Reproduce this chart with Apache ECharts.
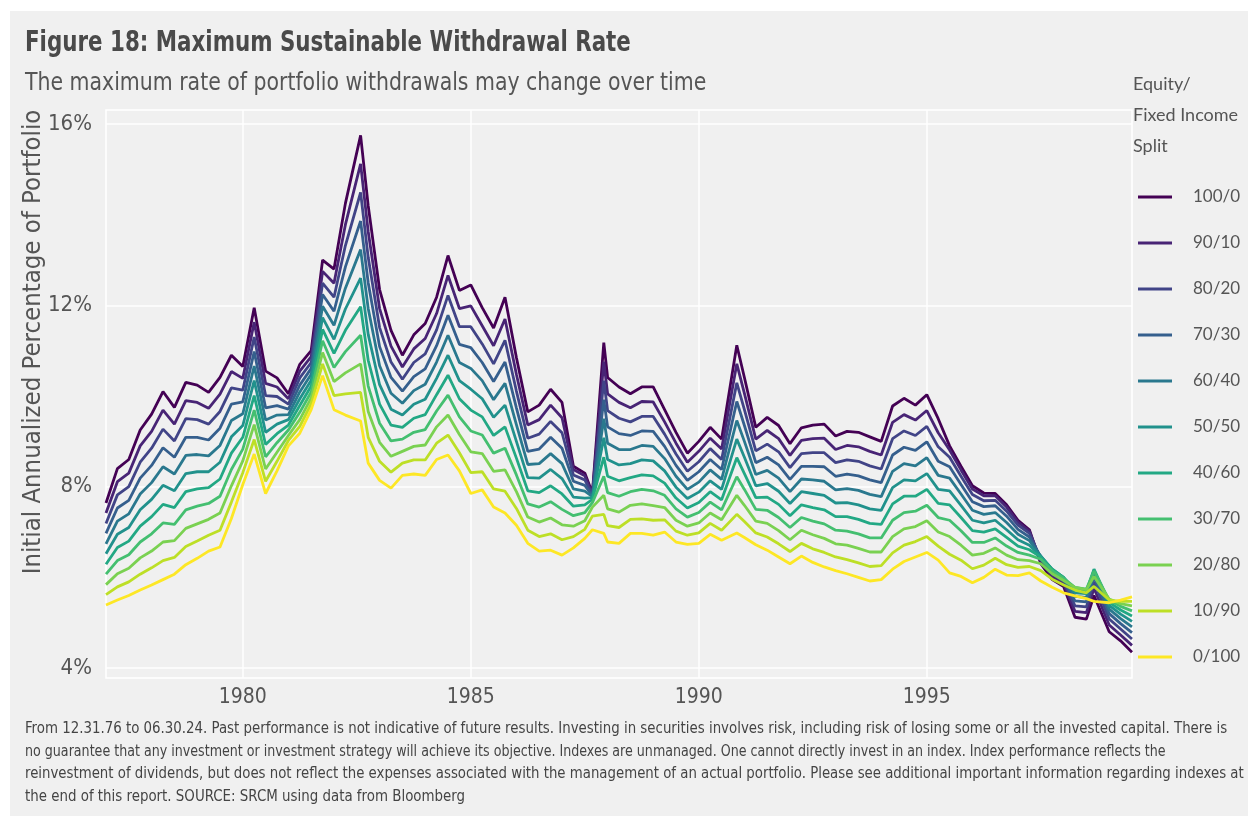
<!DOCTYPE html>
<html>
<head>
<meta charset="utf-8">
<title>Maximum Sustainable Withdrawal Rate</title>
<script src="https://cdn.jsdelivr.net/npm/echarts@6/dist/echarts.min.js"></script>
<style>
  html, body { margin: 0; padding: 0; background: #ffffff; overflow: hidden; }
  #main { position: absolute; left: 10px; top: 11px; width: 1238px; height: 805px; }
</style>
</head>
<body>
<div id="main"></div>
<script>
// start month of each 25-year withdrawal period (roughly quarterly, shifted onto peaks)
var dates = [
  '1977-01','1977-04','1977-07','1977-10','1978-01','1978-04','1978-07','1978-10',
  '1979-01','1979-04','1979-07','1979-10','1980-01','1980-04','1980-07','1980-10',
  '1981-01','1981-04','1981-07','1981-10','1982-01','1982-04','1982-08','1982-10',
  '1983-01','1983-04','1983-07','1983-10','1984-01','1984-04','1984-07','1984-10',
  '1985-01','1985-04','1985-07','1985-10','1986-01','1986-04','1986-07','1986-10',
  '1987-01','1987-04','1987-07','1987-09','1987-12','1988-01','1988-04','1988-07',
  '1988-10','1989-01','1989-04','1989-07','1989-10','1990-01','1990-04','1990-07',
  '1990-11','1991-01','1991-04','1991-07','1991-10','1992-01','1992-04','1992-07',
  '1992-10','1993-01','1993-04','1993-07','1993-10','1994-01','1994-04','1994-07',
  '1994-10','1995-01','1995-04','1995-07','1995-10','1996-01','1996-04','1996-07',
  '1996-10','1997-01','1997-04','1997-07','1997-10','1998-01','1998-04','1998-07',
  '1998-09','1999-01','1999-04','1999-07'
];

// max sustainable withdrawal rate (%), one array per equity/fixed income split
var eq100 = [7.64,8.40,8.60,9.25,9.60,10.10,9.75,10.30,10.24,10.08,
  10.41,10.90,10.65,11.95,10.55,10.40,10.05,10.70,11.00,13.00,
  12.80,14.25,15.75,14.20,12.35,11.45,10.90,11.35,11.60,12.18,
  13.10,12.33,12.45,11.95,11.50,12.18,10.85,9.65,9.80,10.15,
  9.86,8.45,8.30,7.86,11.18,10.41,10.20,10.05,10.20,10.20,
  9.70,9.20,8.74,9.00,9.31,9.05,11.12,10.41,9.31,9.53,
  9.35,8.95,9.30,9.36,9.38,9.12,9.22,9.20,9.10,9.00,
  9.78,9.95,9.80,10.03,9.50,8.90,8.45,8.02,7.86,7.85,
  7.60,7.26,7.05,6.30,5.95,5.80,5.12,5.08,5.60,4.80,
  4.60,4.35];
var eq90 = [7.42,8.11,8.30,8.90,9.22,9.69,9.38,9.90,9.86,9.73,
  10.04,10.54,10.39,11.63,10.28,10.20,9.94,10.55,10.87,12.75,
  12.49,13.78,15.12,13.63,11.93,11.10,10.64,11.04,11.27,11.82,
  12.66,11.93,11.99,11.55,11.11,11.70,10.48,9.36,9.48,9.80,
  9.52,8.38,8.24,7.84,10.76,10.05,9.86,9.74,9.88,9.87,
  9.43,8.96,8.54,8.78,9.07,8.83,10.71,10.06,9.05,9.24,
  9.06,8.69,9.02,9.06,9.07,8.82,8.91,8.88,8.78,8.70,
  9.42,9.59,9.47,9.68,9.19,8.81,8.37,7.95,7.80,7.80,
  7.55,7.22,7.02,6.36,6.02,5.86,5.25,5.22,5.76,4.95,
  4.73,4.50];
var eq80 = [7.19,7.82,8.00,8.54,8.85,9.27,9.01,9.50,9.48,9.38,
  9.66,10.18,10.13,11.30,10.01,9.99,9.82,10.40,10.74,12.49,
  12.18,13.32,14.49,13.06,11.51,10.75,10.37,10.74,10.93,11.46,
  12.22,11.53,11.53,11.15,10.71,11.23,10.11,9.07,9.16,9.44,
  9.19,8.26,8.15,7.82,10.34,9.68,9.51,9.43,9.55,9.55,
  9.16,8.72,8.34,8.55,8.84,8.60,10.29,9.70,8.79,8.94,
  8.77,8.42,8.73,8.75,8.75,8.53,8.59,8.56,8.46,8.39,
  9.06,9.23,9.13,9.33,8.88,8.65,8.23,7.83,7.69,7.70,
  7.46,7.15,6.97,6.41,6.08,5.91,5.37,5.35,5.90,5.08,
  4.86,4.64];
var eq70 = [6.97,7.53,7.70,8.19,8.47,8.86,8.65,9.09,9.09,9.03,
  9.29,9.82,9.87,10.98,9.74,9.79,9.71,10.24,10.61,12.24,
  11.87,12.85,13.86,12.50,11.09,10.41,10.11,10.43,10.60,11.11,
  11.78,11.14,11.07,10.74,10.32,10.75,9.74,8.78,8.83,9.09,
  8.85,8.12,8.03,7.80,9.92,9.32,9.17,9.13,9.23,9.22,
  8.89,8.47,8.14,8.33,8.60,8.38,9.88,9.35,8.53,8.65,
  8.48,8.16,8.45,8.45,8.44,8.23,8.28,8.24,8.15,8.09,
  8.70,8.87,8.80,8.99,8.56,8.44,8.05,7.67,7.56,7.58,
  7.35,7.06,6.89,6.45,6.13,5.95,5.48,5.46,6.01,5.20,
  4.98,4.78];
var eq60 = [6.74,7.24,7.40,7.84,8.09,8.44,8.28,8.69,8.71,8.68,
  8.91,9.46,9.61,10.66,9.47,9.58,9.59,10.09,10.48,11.98,
  11.56,12.38,13.23,11.93,10.67,10.06,9.84,10.12,10.26,10.75,
  11.34,10.74,10.61,10.34,9.92,10.28,9.37,8.49,8.51,8.73,
  8.51,7.95,7.90,7.78,9.50,8.96,8.82,8.82,8.91,8.89,
  8.62,8.23,7.94,8.10,8.37,8.16,9.46,9.00,8.27,8.36,
  8.19,7.89,8.17,8.15,8.12,7.93,7.96,7.92,7.83,7.78,
  8.34,8.51,8.46,8.64,8.25,8.19,7.84,7.48,7.39,7.43,
  7.21,6.95,6.81,6.47,6.16,5.98,5.58,5.56,6.10,5.30,
  5.09,4.91];
var eq50 = [6.52,6.95,7.10,7.49,7.72,8.03,7.91,8.29,8.33,8.33,
  8.54,9.10,9.35,10.34,9.20,9.38,9.48,9.94,10.35,11.73,
  11.25,11.92,12.60,11.36,10.25,9.71,9.58,9.82,9.93,10.39,
  10.90,10.34,10.15,9.94,9.53,9.80,9.00,8.20,8.19,8.38,
  8.18,7.77,7.75,7.76,9.08,8.60,8.48,8.51,8.59,8.57,
  8.35,7.99,7.74,7.88,8.13,7.94,9.05,8.65,8.02,8.07,
  7.90,7.63,7.89,7.85,7.81,7.64,7.65,7.60,7.51,7.48,
  7.98,8.15,8.13,8.29,7.94,7.91,7.59,7.26,7.20,7.26,
  7.05,6.83,6.71,6.47,6.18,6.00,5.66,5.64,6.16,5.38,
  5.19,5.03];
var eq40 = [6.29,6.66,6.80,7.13,7.34,7.61,7.54,7.89,7.95,7.98,
  8.17,8.74,9.09,10.01,8.93,9.17,9.36,9.79,10.22,11.47,
  10.94,11.45,11.97,10.79,9.82,9.36,9.31,9.51,9.59,10.03,
  10.46,9.94,9.69,9.54,9.13,9.32,8.63,7.91,7.87,8.02,
  7.84,7.57,7.60,7.72,8.65,8.23,8.13,8.20,8.26,8.24,
  8.08,7.75,7.53,7.65,7.89,7.71,8.64,8.29,7.76,7.77,
  7.61,7.36,7.60,7.54,7.49,7.34,7.34,7.28,7.19,7.17,
  7.62,7.79,7.79,7.94,7.63,7.60,7.32,7.03,7.00,7.07,
  6.88,6.69,6.61,6.45,6.18,6.00,5.73,5.70,6.18,5.45,
  5.28,5.15];
var eq30 = [6.07,6.37,6.50,6.78,6.96,7.20,7.17,7.49,7.57,7.63,
  7.79,8.38,8.83,9.69,8.66,8.97,9.25,9.64,10.09,11.22,
  10.63,10.98,11.34,10.22,9.40,9.01,9.05,9.20,9.26,9.67,
  10.02,9.54,9.23,9.14,8.74,8.85,8.26,7.62,7.55,7.67,
  7.50,7.36,7.43,7.65,8.23,7.87,7.79,7.89,7.94,7.91,
  7.81,7.51,7.33,7.43,7.66,7.49,8.22,7.94,7.50,7.48,
  7.32,7.10,7.32,7.24,7.18,7.04,7.02,6.96,6.87,6.87,
  7.26,7.43,7.46,7.59,7.32,7.26,7.03,6.77,6.77,6.87,
  6.69,6.55,6.49,6.40,6.15,5.98,5.78,5.74,6.14,5.50,
  5.36,5.26];
var eq20 = [5.84,6.08,6.20,6.43,6.58,6.78,6.81,7.08,7.18,7.28,
  7.42,8.02,8.57,9.37,8.39,8.76,9.13,9.48,9.96,10.96,
  10.32,10.51,10.71,9.66,8.98,8.67,8.78,8.89,8.92,9.32,
  9.58,9.15,8.77,8.73,8.34,8.37,7.89,7.33,7.22,7.31,
  7.16,7.13,7.25,7.55,7.81,7.51,7.44,7.59,7.62,7.58,
  7.54,7.26,7.13,7.20,7.42,7.27,7.81,7.59,7.24,7.19,
  7.03,6.83,7.04,6.94,6.86,6.74,6.71,6.64,6.56,6.56,
  6.90,7.07,7.12,7.25,7.00,6.90,6.71,6.49,6.53,6.65,
  6.49,6.39,6.37,6.30,6.08,5.93,5.78,5.73,6.02,5.52,
  5.42,5.37];
var eq10 = [5.62,5.79,5.90,6.07,6.21,6.37,6.44,6.68,6.80,6.93,
  7.04,7.66,8.31,9.04,8.12,8.56,9.02,9.33,9.83,10.71,
  10.01,10.05,10.08,9.09,8.56,8.32,8.52,8.59,8.59,8.96,
  9.14,8.75,8.31,8.33,7.95,7.90,7.52,7.04,6.90,6.96,
  6.83,6.90,7.06,7.35,7.39,7.14,7.10,7.28,7.29,7.26,
  7.27,7.02,6.93,6.98,7.19,7.04,7.39,7.23,6.98,6.89,
  6.74,6.57,6.75,6.63,6.55,6.45,6.39,6.32,6.24,6.26,
  6.54,6.71,6.79,6.90,6.69,6.51,6.38,6.19,6.27,6.42,
  6.28,6.22,6.24,6.15,5.96,5.83,5.72,5.66,5.80,5.50,
  5.47,5.47];
var eq0 = [5.39,5.50,5.60,5.72,5.83,5.95,6.07,6.28,6.42,6.58,
  6.67,7.30,8.05,8.72,7.85,8.35,8.90,9.18,9.70,10.45,
  9.70,9.58,9.45,8.52,8.14,7.97,8.25,8.28,8.25,8.60,
  8.70,8.35,7.85,7.93,7.55,7.42,7.15,6.75,6.58,6.60,
  6.49,6.65,6.86,7.05,6.97,6.78,6.75,6.97,6.97,6.93,
  7.00,6.78,6.73,6.75,6.95,6.82,6.98,6.88,6.72,6.60,
  6.45,6.30,6.47,6.33,6.23,6.15,6.08,6.00,5.92,5.95,
  6.18,6.35,6.45,6.55,6.38,6.10,6.02,5.88,6.00,6.18,
  6.05,6.04,6.10,5.92,5.78,5.66,5.59,5.53,5.47,5.44,
  5.50,5.57];

var splits = ['100/0', '90/10', '80/20', '70/30', '60/40', '50/50',
              '40/60', '30/70', '20/80', '10/90', '0/100'];
var rates = [eq100, eq90, eq80, eq70, eq60, eq50, eq40, eq30, eq20, eq10, eq0];
var yearTicks = [1980, 1985, 1990, 1995];
var pctTicks = [4, 8, 12, 16];

// viridis, dark purple = all equity
var colors = ['#440154', '#482475', '#414487', '#355f8d', '#2a788e', '#21918c',
              '#22a884', '#44bf70', '#7ad151', '#bddf26', '#fde725'];

var narrow = "'Liberation Sans Narrow', 'DejaVu Sans Condensed', Roboto, sans-serif";
var textColor = '#555555';

var footLines = [
  'From 12.31.76 to 06.30.24. Past performance is not indicative of future results. Investing in securities involves risk, including risk of losing some or all the invested capital. There is',
  'no guarantee that any investment or investment strategy will achieve its objective. Indexes are unmanaged. One cannot directly invest in an index. Index performance reflects the',
  'reinvestment of dividends, but does not reflect the expenses associated with the management of an actual portfolio. Please see additional important information regarding indexes at',
  'the end of this report. SOURCE: SRCM using data from Bloomberg'
];
// horizontal squeeze per footnote line, to match the original line lengths
var footScale = [0.928, 0.88, 0.925, 0.93];

function toYear(s) {
  var p = s.split('-');
  return +p[0] + (+p[1] - 1) / 12;
}
var years = dates.map(toYear);

var series = splits.map(function (name, i) {
  return {
    name: name,
    type: 'line',
    symbol: 'none',
    smooth: false,
    color: colors[i],
    lineStyle: { width: 2.8, color: colors[i] },
    data: years.map(function (x, j) { return [x, rates[i][j]]; })
  };
});

var graphics = [
  {
    type: 'text',
    x: 15, y: 18, scaleX: 0.82,
    style: {
      text: 'Figure 18: Maximum Sustainable Withdrawal Rate',
      font: 'bold 29px ' + narrow, fill: '#4a4a4a', verticalAlign: 'top'
    }
  },
  {
    type: 'text',
    x: 15, y: 60, scaleX: 0.91,
    style: {
      text: 'The maximum rate of portfolio withdrawals may change over time',
      font: '25px ' + narrow, fill: textColor, verticalAlign: 'top'
    }
  },
  {
    type: 'text',
    x: 23, y: 331,
    rotation: Math.PI / 2,
    style: {
      text: 'Initial Annualized Percentage of Portfolio',
      font: '25.5px ' + narrow, fill: textColor,
      align: 'center', verticalAlign: 'middle'
    }
  }
];
footLines.forEach(function (line, i) {
  graphics.push({
    type: 'text',
    x: 15, y: 710 + i * 22.5, scaleX: footScale[i],
    style: { text: line, font: '16px ' + narrow, fill: '#444444', verticalAlign: 'top' }
  });
});

var myChart = echarts.init(document.getElementById('main'));
myChart.setOption({
  backgroundColor: '#f0f0f0',
  animation: false,
  title: {
    text: 'Equity/\nFixed Income\nSplit',
    left: 1118, top: 53,
    textStyle: { fontFamily: 'Lato, sans-serif', fontSize: 18, fontWeight: 'normal',
                 color: textColor, lineHeight: 31 }
  },
  legend: {
    data: splits,
    orient: 'vertical',
    left: 1123, top: 171,
    icon: 'rect',
    itemWidth: 34, itemHeight: 3,
    itemGap: 26,
    selectedMode: false,
    textStyle: { fontFamily: 'Lato, sans-serif', fontSize: 17, color: textColor,
                 lineHeight: 20, padding: [0, 0, 0, 16] }
  },
  grid: {
    left: 96, right: 116, top: 99, bottom: 138,
    show: true, borderColor: '#ffffff', borderWidth: 1.5, backgroundColor: 'transparent'
  },
  xAxis: {
    type: 'value',
    min: 1977, max: 1999.5,
    axisLine: { show: false },
    axisTick: { show: false, customValues: yearTicks },
    axisLabel: { customValues: yearTicks, margin: 9, fontFamily: narrow, fontSize: 21,
                 color: textColor, formatter: function (v) { return String(v); } },
    splitLine: { show: true, lineStyle: { color: '#ffffff', width: 1.5 } }
  },
  yAxis: {
    type: 'value',
    min: 3.78, max: 16.31,
    axisLine: { show: false },
    axisTick: { show: false, customValues: pctTicks },
    axisLabel: { customValues: pctTicks, margin: 14, fontFamily: narrow, fontSize: 22,
                 color: textColor, formatter: function (v) { return v + '%'; } },
    splitLine: { show: true, lineStyle: { color: '#ffffff', width: 1.5 } }
  },
  graphic: graphics,
  series: series
});
window.addEventListener('resize', function () { myChart.resize(); });
</script>
</body>
</html>
